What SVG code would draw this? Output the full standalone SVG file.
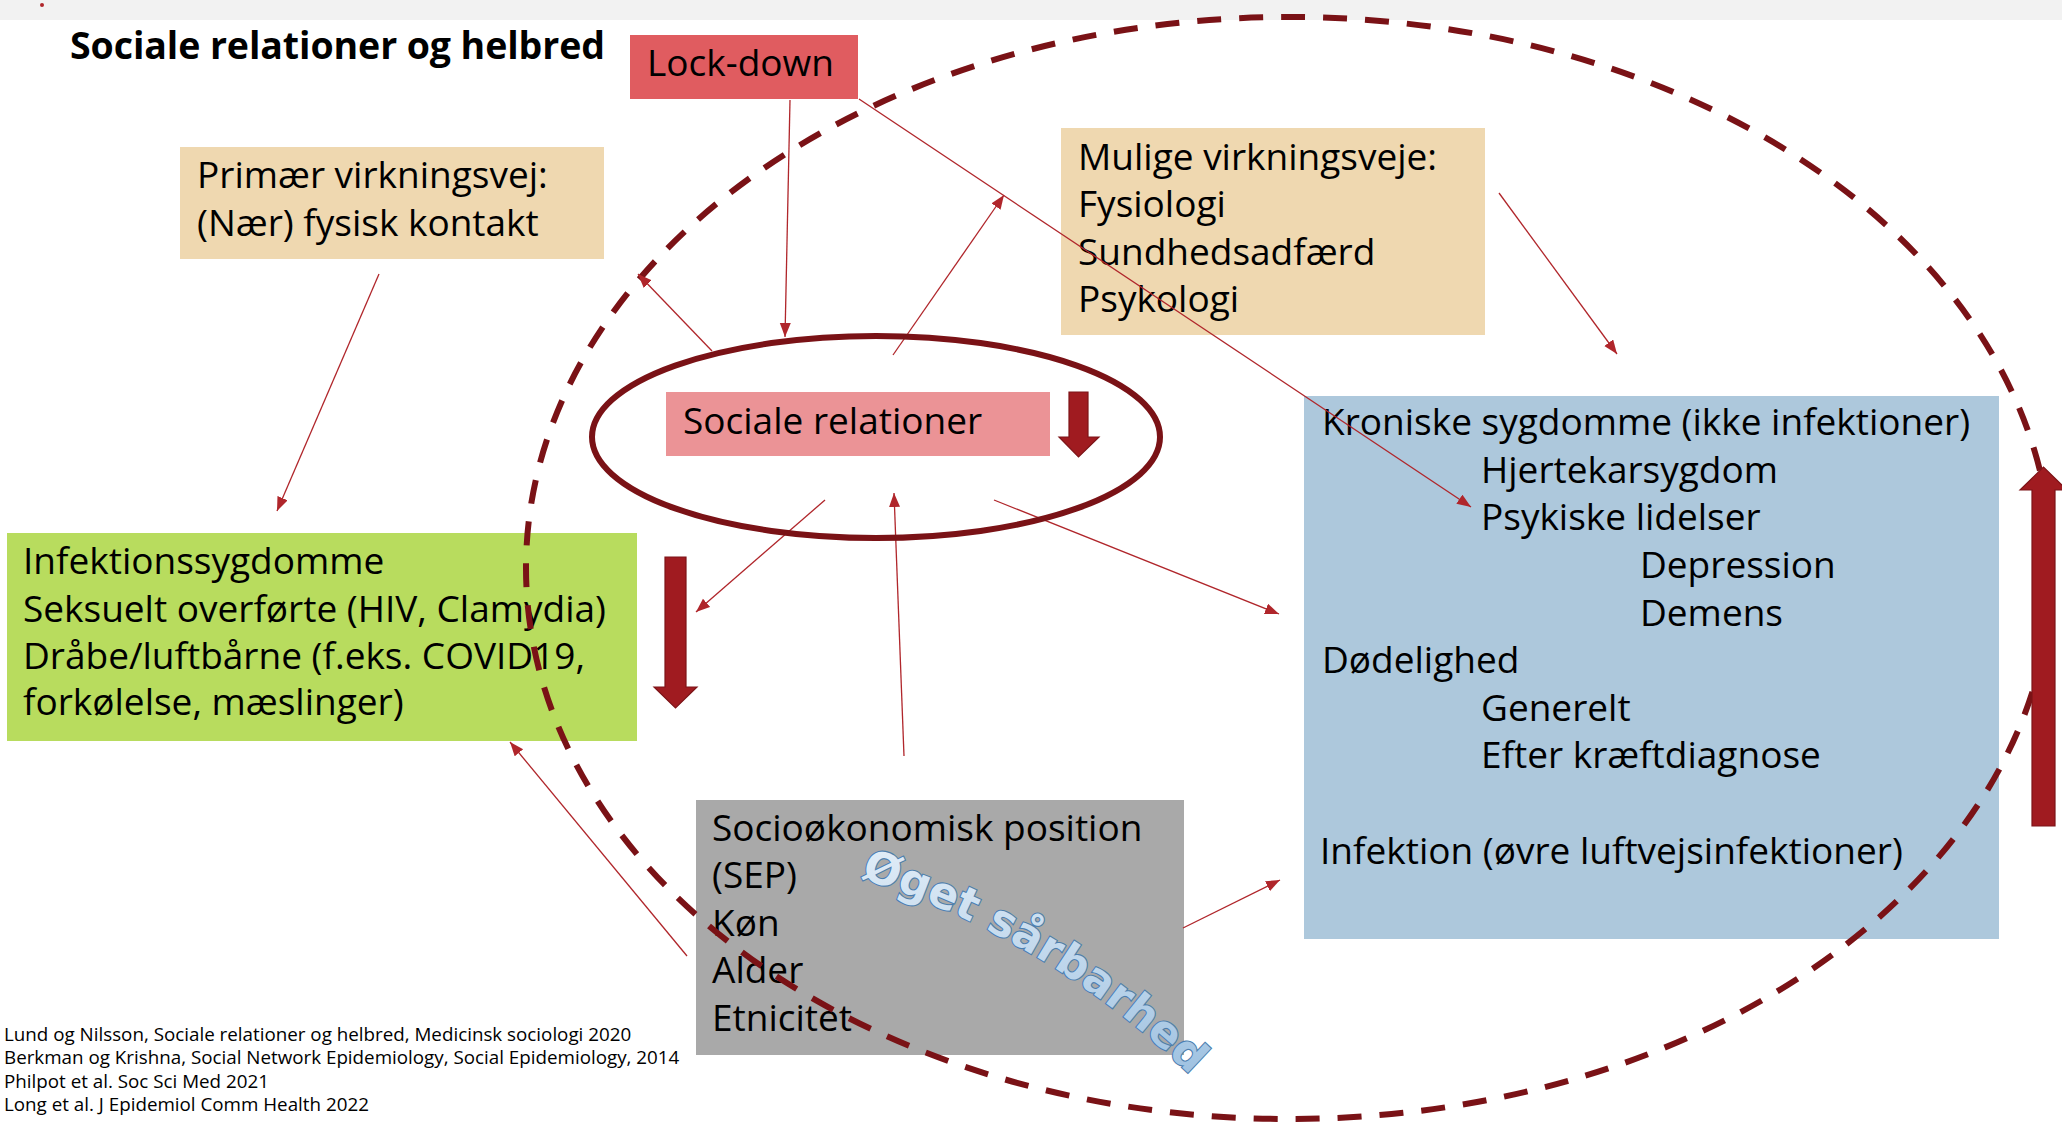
<svg xmlns="http://www.w3.org/2000/svg" width="2062" height="1122" viewBox="0 0 2062 1122">
  <style>
    .t { font-family: "Open Sans", "Noto Sans", "Liberation Sans", sans-serif; font-size: 37px; fill: #000; }
    .ref { font-family: "Open Sans", "Noto Sans", "Liberation Sans", sans-serif; font-size: 18.8px; fill: #000; }
    .title { font-family: "Open Sans", "Noto Sans", "Liberation Sans", sans-serif; font-size: 37.5px; font-weight: bold; fill: #000; }
    .conn { stroke: #b0262b; stroke-width: 1.3; fill: none; marker-end: url(#ah); }
    .block { fill: #a01b20; stroke: #7d1418; stroke-width: 1.2; }
    .wa { font-family: "DejaVu Sans", "Liberation Sans", sans-serif; font-size: 44px; font-weight: bold; fill: url(#waGrad); stroke: #4c7eae; stroke-width: 2.2; paint-order: stroke; }
  </style>
  <defs>
    <marker id="ah" markerUnits="userSpaceOnUse" markerWidth="15" markerHeight="12" refX="14" refY="5.5" orient="auto">
      <path d="M0,0 L14,5.5 L0,11 z" fill="#b0262b"/>
    </marker>
    <linearGradient id="waGrad" x1="0" y1="0" x2="0" y2="1">
      <stop offset="0" stop-color="#e3eef8"/>
      <stop offset="1" stop-color="#9cc0e0"/>
    </linearGradient>
    <path id="waPath" d="M 860 878 Q 1060 942 1205 1090"/>
  </defs>

  <rect width="2062" height="1122" fill="#ffffff"/>
  <g id="topbar">
    <rect x="0" y="0" width="2062" height="20" fill="#f2f2f2"/>
    <circle cx="42" cy="5" r="2" fill="#b0262b"/>
  </g>

  <g id="title">
    <text class="title" x="70" y="59" textLength="535">Sociale relationer og helbred</text>
  </g>

  <g id="lockdown">
    <rect x="630" y="35" width="228" height="64" fill="#e05c60"/>
    <text class="t" x="647" y="76">Lock-down</text>
  </g>

  <g id="primaer">
    <rect x="180" y="147" width="424" height="112" fill="#efd8b0"/>
    <text class="t" x="197" y="188">Primær virkningsvej:</text>
    <text class="t" x="197" y="236">(Nær) fysisk kontakt</text>
  </g>

  <g id="mulige">
    <rect x="1061" y="128" width="424" height="207" fill="#efd8b0"/>
    <text class="t" x="1078" y="170">Mulige virkningsveje:</text>
    <text class="t" x="1078" y="217">Fysiologi</text>
    <text class="t" x="1078" y="265">Sundhedsadfærd</text>
    <text class="t" x="1078" y="312">Psykologi</text>
  </g>

  <g id="infektion">
    <rect x="7" y="533" width="630" height="208" fill="#b8dc5e"/>
    <text class="t" x="23" y="574">Infektionssygdomme</text>
    <text class="t" x="23" y="622">Seksuelt overførte (HIV, Clamydia)</text>
    <text class="t" x="23" y="669">Dråbe/luftbårne (f.eks. COVID19,</text>
    <text class="t" x="23" y="715">forkølelse, mæslinger)</text>
  </g>

  <g id="kroniske">
    <rect x="1304" y="396" width="695" height="543" fill="#adc8dc"/>
    <text class="t" x="1322" y="435">Kroniske sygdomme (ikke infektioner)</text>
    <text class="t" x="1481" y="483">Hjertekarsygdom</text>
    <text class="t" x="1481" y="530">Psykiske lidelser</text>
    <text class="t" x="1640" y="578">Depression</text>
    <text class="t" x="1640" y="626">Demens</text>
    <text class="t" x="1322" y="673">Dødelighed</text>
    <text class="t" x="1481" y="721">Generelt</text>
    <text class="t" x="1481" y="768">Efter kræftdiagnose</text>
    <text class="t" x="1320" y="864">Infektion (øvre luftvejsinfektioner)</text>
  </g>

  <g id="socio">
    <rect x="696" y="800" width="488" height="255" fill="#a9a9a9"/>
    <text class="t" x="712" y="841">Socioøkonomisk position</text>
    <text class="t" x="712" y="888">(SEP)</text>
    <text class="t" x="712" y="936">Køn</text>
    <text class="t" x="712" y="983">Alder</text>
    <text class="t" x="712" y="1031">Etnicitet</text>
  </g>

  <g id="references">
    <text class="ref" x="4" y="1041">Lund og Nilsson, Sociale relationer og helbred, Medicinsk sociologi 2020</text>
    <text class="ref" x="4" y="1064">Berkman og Krishna, Social Network Epidemiology, Social Epidemiology, 2014</text>
    <text class="ref" x="4" y="1088">Philpot et al. Soc Sci Med 2021</text>
    <text class="ref" x="4" y="1111">Long et al. J Epidemiol Comm Health 2022</text>
  </g>

  <g id="vulnerability-boundary">
    <ellipse cx="1289" cy="568" rx="763" ry="551" fill="none" stroke="#7a1216" stroke-width="6" stroke-dasharray="24 18"/>
  </g>

  <g id="connectors">
    <line class="conn" x1="790" y1="100" x2="785" y2="337"/>
    <line class="conn" x1="859" y1="99" x2="1471" y2="507"/>
    <line class="conn" x1="712" y1="351" x2="638" y2="274"/>
    <line class="conn" x1="893" y1="355" x2="1004" y2="195"/>
    <line class="conn" x1="379" y1="274" x2="277" y2="511"/>
    <line class="conn" x1="1499" y1="193" x2="1617" y2="354"/>
    <line class="conn" x1="825" y1="500" x2="696" y2="612"/>
    <line class="conn" x1="904" y1="756" x2="894" y2="493"/>
    <line class="conn" x1="994" y1="500" x2="1279" y2="614"/>
    <line class="conn" x1="1183" y1="928" x2="1280" y2="880"/>
    <line class="conn" x1="687" y1="956" x2="510" y2="742"/>
  </g>

  <g id="sociale-relationer">
    <ellipse cx="876" cy="437" rx="284" ry="101" fill="none" stroke="#7a1216" stroke-width="6"/>
    <rect x="666" y="392" width="384" height="64" fill="#eb9396"/>
    <text class="t" x="683" y="434">Sociale relationer</text>
  </g>

  <g id="block-arrows">
    <path class="block" d="M1069,392 H1088 V437 H1099 L1078.5,457 L1059,437 H1069 Z"/>
    <path class="block" d="M665,557 H686 V687 H697 L675.5,708 L654,687 H665 Z"/>
    <path class="block" d="M2032,826 V490 H2020 L2043.5,467 L2067,490 H2055 V826 Z"/>
  </g>

  <g id="oeget-saarbarhed">
    <text class="wa"><textPath href="#waPath">Øget sårbarhed</textPath></text>
  </g>
</svg>
